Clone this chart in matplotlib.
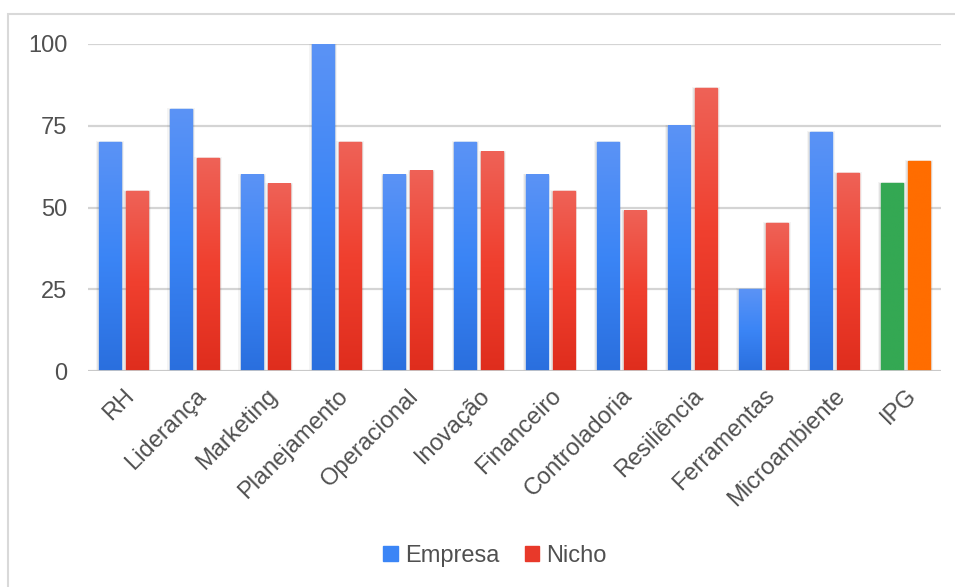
import numpy as np
import matplotlib.pyplot as plt
from matplotlib.colors import LinearSegmentedColormap
from matplotlib.patches import Rectangle

plt.rcParams['font.family'] = ['Liberation Sans', 'DejaVu Sans']

categorias = ['RH', 'Liderança', 'Marketing', 'Planejamento', 'Operacional', 'Inovação',
              'Financeiro', 'Controladoria', 'Resiliência', 'Ferramentas', 'Microambiente', 'IPG']
empresa = [70, 80, 60, 100, 60, 70, 60, 70, 75, 25, 73, 57.4]
nicho = [55, 65, 57.2, 70, 61.2, 67, 55, 49, 86.4, 45.2, 60.4, 64.1]
yticks = [0, 25, 50, 75, 100]

blue_grad = LinearSegmentedColormap.from_list('b', ['#2a6fde', '#3b85f6', '#5b93f5'])
red_grad = LinearSegmentedColormap.from_list('r', ['#df2d1d', '#f0402f', '#ee6257'])
green_grad = LinearSegmentedColormap.from_list('g', ['#34a853', '#34a853'])
orange_grad = LinearSegmentedColormap.from_list('o', ['#ff6d00', '#ff6d00'])

fig = plt.figure(figsize=(9.55, 5.87), dpi=100)
ax = fig.add_axes([88 / 955, 1 - 371 / 587, 853 / 955, 327 / 587])

# chart border
fig.patches.append(Rectangle((8 / 955, -0.1), 1.2, 1 - 14 / 587 + 0.1, transform=fig.transFigure,
                             fill=False, edgecolor='#d9d9d9', linewidth=1.5, zorder=0))

x = np.arange(len(categorias))
off = 0.19
w = 0.31
bars_e = ax.bar(x - off, empresa, w, color='#3b85f6', label='Empresa', zorder=3)
bars_n = ax.bar(x + off, nicho, w, color='#e8392a', label='Nicho', zorder=3)

grad = np.linspace(0, 1, 256).reshape(-1, 1)
for i, (be, bn) in enumerate(zip(bars_e, bars_n)):
    cm_e = green_grad if categorias[i] == 'IPG' else blue_grad
    cm_n = orange_grad if categorias[i] == 'IPG' else red_grad
    for b, cm in ((be, cm_e), (bn, cm_n)):
        x0, y0 = b.get_x(), b.get_y()
        bw, bh = b.get_width(), b.get_height()
        # soft shadow
        for k, a in ((0.04, 0.07), (0.022, 0.12)):
            ax.add_patch(Rectangle((x0 - k, y0), bw + 2 * k, bh + k * 8, facecolor='#707070',
                                   alpha=a, edgecolor='none', zorder=2))
        b.set_color(cm(0.5))
        ax.imshow(grad, cmap=cm, origin='lower', aspect='auto', interpolation='bilinear',
                  extent=(x0, x0 + bw, y0, y0 + bh), zorder=4)

ax.set_xlim(-0.5, len(categorias) - 0.5)
ax.set_ylim(0, 100)
ax.set_yticks(yticks)
ax.yaxis.grid(True, color='#d4d4d4', linewidth=1.6, zorder=0)
ax.axhline(0, color='#c8c8c8', linewidth=2, zorder=5)
for s in ax.spines.values():
    s.set_visible(False)
ax.tick_params(axis='both', length=0, labelsize=17, labelcolor='#505050')
ax.tick_params(axis='y', pad=15)
ax.set_xticks(x)
ax.set_xticklabels(categorias, rotation=45, ha='right', rotation_mode='anchor')
ax.tick_params(axis='x', pad=10)

leg = fig.legend(handles=[Rectangle((0, 0), 1, 1, color='#3b85f6'), Rectangle((0, 0), 1, 1, color='#e8392a')],
                 labels=['Empresa', 'Nicho'], loc='center', bbox_to_anchor=(495 / 955, 1 - 556 / 587),
                 ncol=2, frameon=False, fontsize=17, handlelength=0.6, handleheight=0.6,
                 handletextpad=0.3, columnspacing=1.1, labelcolor='#505050')

fig.savefig('out.png', dpi=100)
